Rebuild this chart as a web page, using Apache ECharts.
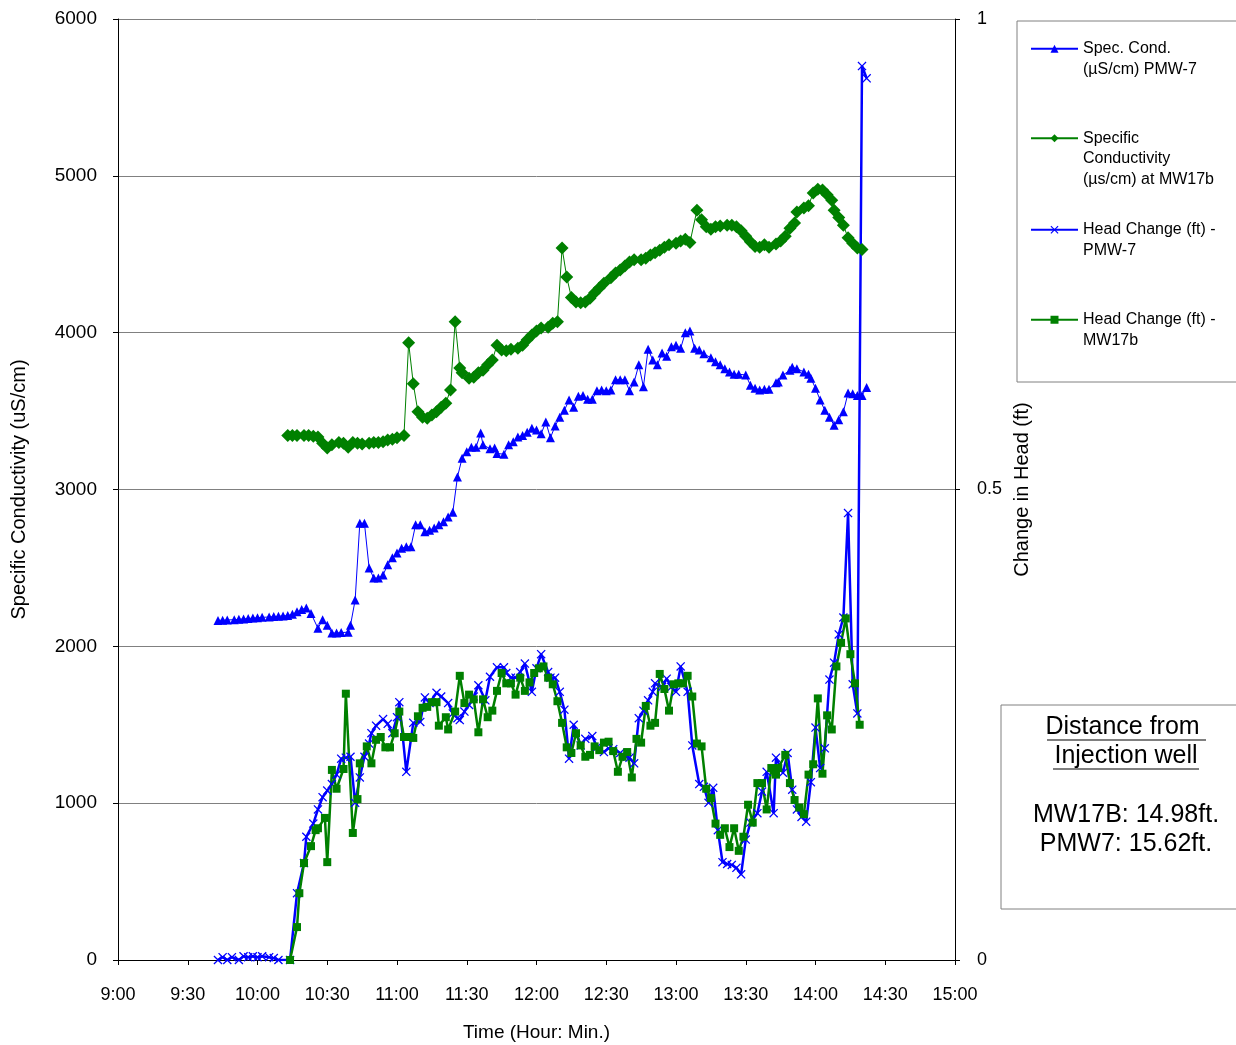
<!DOCTYPE html>
<html>
<head>
<meta charset="utf-8">
<script src="https://cdn.jsdelivr.net/npm/echarts@6/dist/echarts.min.js"></script>
<style>
html, body { margin: 0; padding: 0; background: #fff; }
#chart { width: 1236px; height: 1045px; }
</style>
</head>
<body>
<div id="chart"></div>
<script>
// times are minutes after midnight, [time, value]
var timeTicks = [540, 900, 30];

var specCondPMW7 = [
  [583,2165],[585,2167],[587,2168],[590,2170],[592,2172],[594,2175],[596,2177],[598,2180],[600,2182],[602,2185],
  [605,2187],[607,2190],[609,2192],[611,2194],[613,2196],[615,2205],[617,2220],[619,2235],[621,2245],[623,2210],
  [626,2115],[628,2170],[630,2135],[632,2085],[634,2085],[636,2088],[639,2090],[640,2135],[642,2295],[644,2785],
  [646,2785],[648,2500],[650,2435],[652,2435],[654,2455],[656,2520],[658,2565],[660,2595],[662,2625],[664,2635],
  [666,2635],[668,2775],[670,2775],[672,2730],[674,2740],[676,2755],[678,2775],[680,2795],[682,2825],[684,2855],
  [686,3080],[688,3200],[690,3240],[692,3270],[694,3270],[696,3360],[697,3285],[700,3260],[702,3265],[703,3230],
  [706,3225],[708,3285],[710,3305],[712,3335],[714,3345],[716,3365],[718,3390],[720,3380],[722,3355],[724,3430],
  [726,3330],[728,3405],[730,3460],[732,3505],[734,3570],[736,3525],[738,3595],[740,3600],[742,3575],[744,3575],
  [746,3630],[748,3635],[750,3630],[752,3635],[754,3700],[756,3700],[758,3700],[760,3630],[762,3685],[764,3795],
  [766,3655],[768,3895],[770,3825],[772,3795],[774,3870],[776,3850],[778,3910],[780,3920],[782,3900],[784,4000],
  [786,4010],[788,3900],[790,3890],[792,3865],[795,3840],[797,3815],[799,3795],[801,3770],[803,3750],[805,3735],
  [807,3735],[810,3730],[812,3665],[814,3645],[816,3635],[818,3640],[820,3640],[823,3680],[824,3685],[826,3730],
  [829,3760],[830,3780],[832,3770],[835,3750],[837,3735],[838,3710],[840,3645],[842,3570],[844,3505],[846,3460],
  [848,3410],[850,3445],[852,3495],[854,3615],[856,3610],[858,3600],[860,3600],[862,3650]
];

var specCondMW17b = [
  [613,3345],[615,3345],[617,3345],[620,3345],[622,3345],[624,3340],[626,3335],[628,3295],[630,3265],[632,3285],
  [635,3300],[637,3295],[639,3270],[641,3300],[643,3295],[645,3290],[648,3295],[650,3300],[652,3300],[654,3305],
  [656,3315],[658,3320],[660,3330],[663,3345],[665,3935],[667,3675],[669,3495],[671,3460],[673,3455],[675,3475],
  [677,3495],[679,3525],[681,3550],[683,3635],[685,4070],[687,3775],[688,3745],[691,3710],[693,3715],[695,3745],
  [697,3760],[699,3795],[701,3825],[703,3920],[705,3890],[707,3885],[709,3895],[712,3900],[714,3920],[716,3955],
  [718,3985],[720,4010],[722,4030],[725,4035],[727,4060],[729,4070],[731,4540],[733,4355],[735,4225],[737,4195],
  [739,4190],[741,4195],[743,4220],[745,4255],[747,4285],[749,4315],[752,4350],[754,4380],[756,4400],[758,4425],
  [760,4450],[762,4465],[765,4465],[767,4475],[769,4495],[771,4510],[773,4525],[775,4545],[777,4560],[780,4570],
  [782,4585],[784,4595],[786,4575],[789,4780],[791,4720],[793,4675],[795,4660],[797,4675],[799,4680],[802,4685],
  [804,4685],[806,4675],[808,4650],[810,4615],[812,4580],[814,4550],[816,4545],[818,4560],[820,4545],[823,4565],
  [825,4585],[827,4615],[829,4665],[831,4700],[832,4770],[835,4795],[837,4810],[839,4890],[841,4915],[843,4910],
  [845,4880],[847,4845],[848,4780],[850,4735],[852,4685],[854,4605],[856,4570],[858,4540],[860,4530]
];

var headPMW7 = [
  [583,0],[585,0.003],[587,0],[589,0.003],[592,0],[594,0.004],[596,0.003],[598,0.004],[600,0.003],[602,0.004],
  [605,0.003],[607,0.002],[609,0],[614,0],[617,0.071],[620,0.103],[621,0.131],[624,0.145],[626,0.160],[628,0.173],
  [630,0.180],[632,0.187],[634,0.197],[636,0.214],[638,0.215],[640,0.216],[642,0.167],[644,0.194],[646,0.216],[648,0.230],
  [649,0.241],[651,0.249],[654,0.256],[656,0.251],[658,0.241],[660,0.258],[661,0.274],[664,0.200],[667,0.252],[670,0.253],
  [672,0.279],[674,0.273],[677,0.284],[679,0.280],[682,0.273],[684,0.262],[686,0.257],[687,0.255],[689,0.264],[691,0.271],
  [693,0.280],[695,0.292],[698,0.276],[700,0.301],[703,0.311],[706,0.311],[707,0.305],[709,0.300],[711,0.300],[713,0.306],
  [715,0.315],[718,0.285],[720,0.310],[722,0.325],[725,0.306],[726,0.300],[728,0.300],[730,0.285],[732,0.266],[734,0.214],
  [736,0.250],[739,0.228],[741,0.235],[744,0.238],[746,0.226],[749,0.221],[751,0.225],[753,0.224],[756,0.220],[759,0.216],
  [760,0.215],[762,0.209],[764,0.257],[766,0.265],[768,0.276],[770,0.285],[771,0.294],[774,0.290],[776,0.299],[778,0.290],
  [780,0.285],[782,0.312],[785,0.285],[787,0.228],[790,0.187],[792,0.184],[794,0.167],[796,0.183],[798,0.138],[800,0.104],
  [802,0.102],[804,0.101],[806,0.098],[808,0.091],[810,0.128],[812,0.146],[815,0.156],[817,0.179],[819,0.200],[822,0.156],
  [823,0.215],[826,0.199],[828,0.220],[830,0.181],[832,0.160],[834,0.152],[836,0.147],[838,0.189],[840,0.247],[842,0.204],
  [844,0.225],[846,0.298],[848,0.316],[850,0.346],[852,0.364],[854,0.475],[856,0.293],[858,0.262],[860,0.950],[862,0.937]
];

var headMW17b = [
  [614,0],[617,0.035],[618,0.071],[620,0.103],[623,0.121],[625,0.138],[626,0.140],[629,0.151],[630,0.104],[632,0.202],
  [634,0.182],[637,0.203],[638,0.283],[641,0.135],[643,0.171],[644,0.209],[647,0.227],[649,0.209],[651,0.234],[653,0.237],
  [655,0.226],[657,0.226],[659,0.241],[661,0.264],[663,0.237],[665,0.237],[667,0.236],[669,0.259],[671,0.268],[673,0.269],
  [675,0.274],[677,0.274],[678,0.249],[681,0.258],[682,0.245],[685,0.264],[687,0.302],[689,0.273],[691,0.282],[693,0.277],
  [695,0.242],[697,0.277],[699,0.258],[701,0.265],[703,0.286],[705,0.305],[707,0.294],[709,0.294],[711,0.282],[713,0.300],
  [715,0.286],[717,0.295],[719,0.305],[721,0.310],[723,0.312],[725,0.300],[727,0.293],[729,0.275],[731,0.252],[733,0.226],
  [735,0.220],[737,0.241],[739,0.228],[741,0.216],[743,0.218],[745,0.227],[747,0.223],[749,0.231],[751,0.232],[753,0.222],
  [755,0.200],[757,0.216],[759,0.221],[761,0.194],[763,0.235],[765,0.231],[767,0.270],[769,0.249],[771,0.252],[773,0.304],
  [775,0.288],[777,0.265],[779,0.293],[781,0.294],[783,0.294],[785,0.302],[787,0.280],[789,0.230],[791,0.227],[793,0.182],
  [795,0.172],[797,0.145],[799,0.133],[801,0.140],[803,0.120],[805,0.140],[807,0.116],[809,0.131],[811,0.165],[813,0.146],
  [815,0.188],[817,0.188],[819,0.160],[821,0.204],[823,0.197],[824,0.204],[827,0.218],[829,0.188],[831,0.170],[833,0.162],
  [835,0.155],[837,0.197],[839,0.208],[841,0.278],[843,0.198],[845,0.260],[847,0.245],[849,0.312],[851,0.337],[853,0.363],
  [855,0.325],[857,0.294],[859,0.250]
];

var seriesNames = [
  'Spec. Cond. (µS/cm) PMW-7',
  'Specific Conductivity (µs/cm) at MW17b',
  'Head Change (ft) - PMW-7',
  'Head Change (ft) - MW17b'
];
var legendText = [
  '\nSpec. Cond.\n(µS/cm) PMW-7',
  '\n\nSpecific\nConductivity\n(µs/cm) at MW17b',
  '\nHead Change (ft) -\nPMW-7',
  '\nHead Change (ft) -\nMW17b'
];

var FONT = '"Liberation Sans", Arial, sans-serif';
var crossPath = 'path://M0,1L1,0L5,4L9,0L10,1L6,5L10,9L9,10L5,6L1,10L0,9L4,5Z';

function hhmm(v) {
  var h = Math.floor(v / 60), m = v % 60;
  return h + ':' + (m < 10 ? '0' + m : m);
}

var dom = document.getElementById('chart');
var myChart = echarts.init(dom);

function makeLegend(i, top) {
  return {
    data: [seriesNames[i]],
    left: 1025,
    top: top,
    orient: 'vertical',
    itemWidth: 47,
    itemHeight: 10,
    itemGap: 0,
    selectedMode: false,
    formatter: function () { return legendText[i]; },
    textStyle: { fontFamily: FONT, fontSize: 16, color: '#000', lineHeight: 20.5 }
  };
}

var option = {
  animation: false,
  backgroundColor: '#fff',
  grid: { left: 118, right: 281, top: 19, bottom: 85, containLabel: false, outerBoundsMode: 'none' },
  legend: [makeLegend(0, 13), makeLegend(1, 82), makeLegend(2, 194), makeLegend(3, 284)],
  xAxis: {
    type: 'value',
    min: timeTicks[0],
    max: timeTicks[1],
    interval: timeTicks[2],
    name: 'Time (Hour: Min.)',
    nameLocation: 'middle',
    nameGap: 63,
    nameTextStyle: { fontFamily: FONT, fontSize: 19, color: '#000' },
    axisLine: { lineStyle: { color: '#000', width: 1 } },
    axisTick: { length: 5, lineStyle: { color: '#000' } },
    axisLabel: { formatter: hhmm, margin: 26, fontFamily: FONT, fontSize: 18, color: '#000' },
    splitLine: { show: false }
  },
  yAxis: [{
    type: 'value',
    min: 0,
    max: 6000,
    interval: 1000,
    name: 'Specific Conductivity (uS/cm)',
    nameLocation: 'middle',
    nameGap: 89,
    nameTextStyle: { fontFamily: FONT, fontSize: 20, color: '#000' },
    axisLine: { show: true, lineStyle: { color: '#000', width: 1 } },
    axisTick: { show: true, length: 5, lineStyle: { color: '#000' } },
    axisLabel: { margin: 21, fontFamily: FONT, fontSize: 19, color: '#000', formatter: function (v) { return String(v); } },
    splitLine: { show: true, lineStyle: { color: '#808080', width: 1 } }
  }, {
    type: 'value',
    position: 'right',
    min: 0,
    max: 1,
    interval: 0.5,
    name: 'Change in Head (ft)',
    nameLocation: 'middle',
    nameGap: 51,
    nameRotate: 90,
    nameTextStyle: { fontFamily: FONT, fontSize: 20, color: '#000' },
    axisLine: { show: true, lineStyle: { color: '#000', width: 1 } },
    axisTick: { show: true, length: 5, lineStyle: { color: '#000' } },
    axisLabel: { margin: 22, fontFamily: FONT, fontSize: 18, color: '#000' },
    splitLine: { show: false }
  }],
  graphic: [
    { type: 'rect', z: -1, shape: { x: 1017, y: 21, width: 240, height: 361 },
      style: { fill: '#fff', stroke: '#808080', lineWidth: 1 } },
    { type: 'rect', z: -1, shape: { x: 1001, y: 705, width: 250, height: 204 },
      style: { fill: '#fff', stroke: '#808080', lineWidth: 1 } },
    { type: 'text', x: 1126, y: 727, style: { text: 'Distance from ', font: '25px ' + FONT, fill: '#000', textAlign: 'center', textVerticalAlign: 'middle' } },
    { type: 'line', shape: { x1: 1047, y1: 740, x2: 1206, y2: 740 }, style: { stroke: '#000', lineWidth: 1.2 } },
    { type: 'text', x: 1126, y: 756, style: { text: 'Injection well', font: '25px ' + FONT, fill: '#000', textAlign: 'center', textVerticalAlign: 'middle' } },
    { type: 'line', shape: { x1: 1053, y1: 769, x2: 1199, y2: 769 }, style: { stroke: '#000', lineWidth: 1.2 } },
    { type: 'text', x: 1126, y: 815, style: { text: 'MW17B: 14.98ft.', font: '25px ' + FONT, fill: '#000', textAlign: 'center', textVerticalAlign: 'middle' } },
    { type: 'text', x: 1126, y: 844, style: { text: 'PMW7: 15.62ft.', font: '25px ' + FONT, fill: '#000', textAlign: 'center', textVerticalAlign: 'middle' } }
  ],
  series: [{
    name: seriesNames[0],
    type: 'line',
    yAxisIndex: 0,
    data: specCondPMW7,
    symbol: 'triangle',
    symbolSize: 9,
    itemStyle: { color: '#0000ff' },
    lineStyle: { color: '#0000ff', width: 1 }
  }, {
    name: seriesNames[1],
    type: 'line',
    yAxisIndex: 0,
    data: specCondMW17b,
    symbol: 'diamond',
    symbolSize: 13,
    itemStyle: { color: '#008000' },
    lineStyle: { color: '#008000', width: 1 }
  }, {
    name: seriesNames[2],
    type: 'line',
    yAxisIndex: 1,
    data: headPMW7,
    symbol: crossPath,
    symbolSize: 9,
    itemStyle: { color: '#0000ff' },
    lineStyle: { color: '#0000ff', width: 2.5 }
  }, {
    name: seriesNames[3],
    type: 'line',
    yAxisIndex: 1,
    data: headMW17b,
    symbol: 'rect',
    symbolSize: 8,
    itemStyle: { color: '#008000' },
    lineStyle: { color: '#008000', width: 2.5 }
  }]
};

if (option && typeof option === "object") {
  myChart.setOption(option, true);
}
</script>
</body>
</html>
